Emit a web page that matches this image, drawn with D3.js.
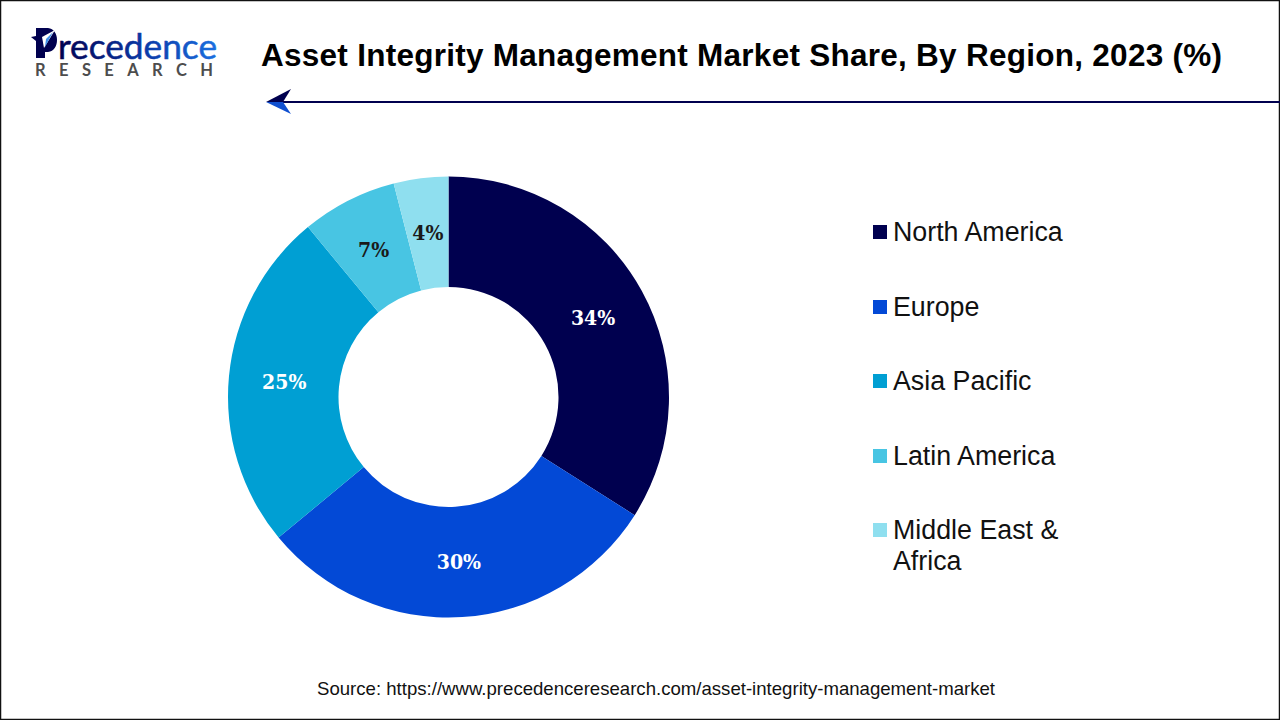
<!DOCTYPE html>
<html>
<head>
<meta charset="utf-8">
<script src="https://cdn.jsdelivr.net/npm/d3@7"></script>
<style>
    html, body { margin: 0; padding: 0; background: #fff; }
    svg { display: block; }
</style>
</head>
<body>
<svg id="chart" width="1280" height="720"></svg>
<script>
const regions = ['North America', 'Europe', 'Asia Pacific', 'Latin America', 'Middle East & Africa'];
const shares = [34, 30, 25, 7, 4];
const colors = ['#00004f', '#0349d6', '#009fd3', '#48c5e3', '#8fdfef'];
const labelColors = ['#ffffff', '#ffffff', '#ffffff', '#1a1a1a', '#1a1a1a'];
const legendLines = [['North America'], ['Europe'], ['Asia Pacific'], ['Latin America'], ['Middle East &', 'Africa']];
const legendY = [232, 307, 381, 456, 530];

const titleText = 'Asset Integrity Management Market Share, By Region, 2023 (%)';
const sourceText = 'Source: https://www.precedenceresearch.com/asset-integrity-management-market';

const svg = d3.select('#chart');
const sans = '"Liberation Sans", Arial, sans-serif';

// frame
svg.append('rect')
    .attr('x', 0.5).attr('y', 0.5)
    .attr('width', 1279).attr('height', 719)
    .attr('fill', '#fff')
    .attr('stroke', '#111')
    .attr('stroke-width', 1.5);

// logo
const defs = svg.append('defs');
const grad = defs.append('linearGradient').attr('id', 'logoGrad');
grad.append('stop').attr('offset', '0%').attr('stop-color', '#00004f');
grad.append('stop').attr('offset', '55%').attr('stop-color', '#0b3aa8');
grad.append('stop').attr('offset', '100%').attr('stop-color', '#1a6fe0');

const logo = svg.append('g');
logo.append('path')
    .attr('d', 'M36 28 L48 28 C60 29 60 51 48 52 L45 52 L45 58 L36 58 L36 41 L31 37 L36 36 Z')
    .attr('fill', '#00004f');
logo.append('path')
    .attr('d', 'M55 30 L42 37 L44 48 Z')
    .attr('fill', '#fff');
logo.append('path')
    .attr('d', 'M53 32 L46 39 L45 47 Z')
    .attr('fill', '#3f8fe8');
logo.append('text')
    .attr('x', 58).attr('y', 58.5)
    .attr('font-family', 'Lato, sans-serif')
    .attr('font-size', 34)
    .attr('textLength', 159)
    .attr('lengthAdjust', 'spacingAndGlyphs')
    .attr('fill', 'url(#logoGrad)')
    .attr('stroke', 'url(#logoGrad)')
    .attr('stroke-width', 0.5)
    .text('recedence');
logo.append('text')
    .attr('x', 35).attr('y', 76)
    .attr('font-family', 'Lato, sans-serif')
    .attr('font-weight', 700)
    .attr('font-size', 16.5)
    .attr('textLength', 178)
    .attr('fill', '#4d4d4d')
    .text('RESEARCH');

// title
svg.append('text')
    .attr('x', 261).attr('y', 66)
    .attr('font-family', sans)
    .attr('font-weight', 700)
    .attr('font-size', 31.5)
    .attr('textLength', 961)
    .attr('fill', '#000')
    .text(titleText);

// arrow rule
svg.append('line')
    .attr('x1', 280).attr('x2', 1280)
    .attr('y1', 102).attr('y2', 102)
    .attr('stroke', '#00004f')
    .attr('stroke-width', 2);
svg.append('path')
    .attr('d', 'M266 102 L291 89 L283 102 Z')
    .attr('fill', '#00004f');
svg.append('path')
    .attr('d', 'M266 102 L291 114 L283 102 Z')
    .attr('fill', '#0f4fd0');

// donut
const cx = 448.5, cy = 397;
const pie = d3.pie().sort(null).value(d => d);
const arc = d3.arc().innerRadius(110).outerRadius(220.5);
const labelArc = d3.arc().innerRadius(165).outerRadius(165);
const arcs = pie(shares);

const donut = svg.append('g').attr('transform', `translate(${cx},${cy})`);
donut.selectAll('path')
    .data(arcs)
    .enter().append('path')
    .attr('d', arc)
    .attr('fill', (d, i) => colors[i]);
donut.selectAll('text')
    .data(arcs)
    .enter().append('text')
    .attr('transform', d => `translate(${labelArc.centroid(d)})`)
    .attr('text-anchor', 'middle')
    .attr('dy', '0.34em')
    .attr('font-family', '"DejaVu Serif Condensed", "DejaVu Serif", serif')
    .attr('font-stretch', 'condensed')
    .attr('font-weight', 700)
    .attr('font-size', 21)
    .attr('fill', (d, i) => labelColors[i])
    .text(d => d.data + '%');

// legend
const legend = svg.append('g');
const rows = legend.selectAll('g')
    .data(regions)
    .enter().append('g');
rows.append('rect')
    .attr('x', 873)
    .attr('y', (d, i) => legendY[i] - 7)
    .attr('width', 14).attr('height', 14)
    .attr('fill', (d, i) => colors[i]);
rows.each(function (d, i) {
    d3.select(this).selectAll('text')
        .data(legendLines[i])
        .enter().append('text')
        .attr('x', 893)
        .attr('y', (t, j) => legendY[i] + 9 + j * 31)
        .attr('font-family', sans)
        .attr('font-size', 26.8)
        .attr('fill', '#111')
        .text(t => t);
});

// source
svg.append('text')
    .attr('x', 317).attr('y', 695)
    .attr('font-family', sans)
    .attr('font-size', 18.6)
    .attr('textLength', 678)
    .attr('fill', '#111')
    .text(sourceText);
</script>
</body>
</html>
